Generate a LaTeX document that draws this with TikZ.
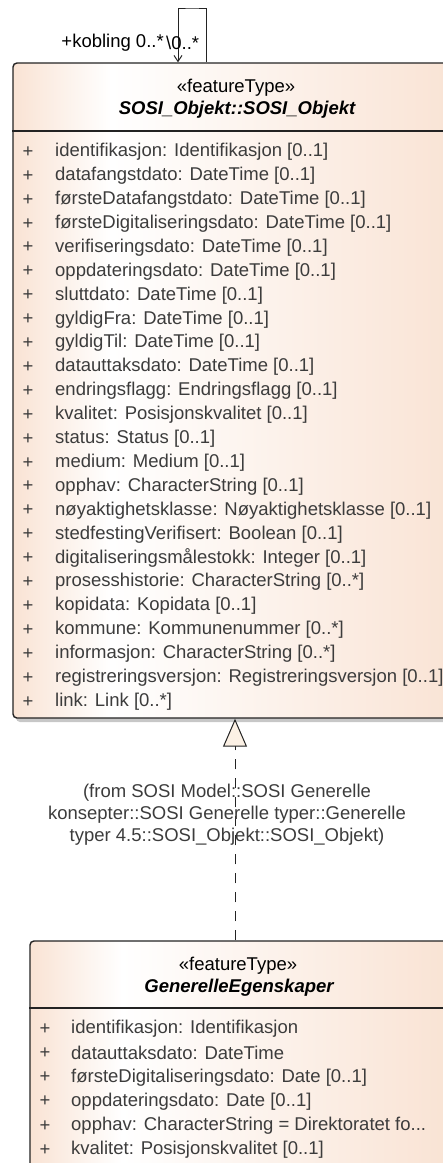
\documentclass[tikz,border=0pt]{standalone}
\usepackage{fontspec}
\setmainfont{Liberation Sans}
\usetikzlibrary{arrows.meta,shadows}
\definecolor{umlpeach}{RGB}{249,227,212}
\definecolor{umltext}{RGB}{60,60,60}
\definecolor{umlline}{RGB}{35,35,35}
\definecolor{umltri}{RGB}{252,241,229}
\pgfdeclarehorizontalshading{umlfill}{100bp}{color(0bp)=(umlpeach); color(25bp)=(umlpeach); color(36bp)=(white); color(75bp)=(umlpeach); color(100bp)=(umlpeach)}

\begin{document}
\begin{tikzpicture}[x=1pt,y=-1pt,
    classbox/.style={draw=umlline,line width=1.4pt,rounded corners=4pt,shading=umlfill,inner sep=0pt},
    attr/.style={anchor=west,text=umltext,inner sep=0pt,font=\fontsize{18.5}{22}\selectfont},
    plus/.style={text=umltext,inner sep=0pt,font=\fontsize{18.5}{22}\selectfont},
    stereo/.style={inner sep=0pt,font=\fontsize{18.5}{22}\selectfont},
    cname/.style={inner sep=0pt,font=\fontsize{18.5}{22}\selectfont\bfseries\itshape},
    lbl/.style={inner sep=0pt,font=\fontsize{18.5}{22}\selectfont}]
  \useasboundingbox (0,0) rectangle (443,1163);
  \clip (0,0) rectangle (443,1163);

  % SOSI_Objekt:
  \node[classbox,minimum width=446,minimum height=655,
        drop shadow={shadow xshift=3pt,shadow yshift=-4pt,fill=black!22,opacity=1}]
        (sosi) at (236,390.5) {};
  \node[stereo] (sosiSt) at (236,88) {«featureType»};
  \node[cname] (sosiName) at (237,110) {SOSI\_Objekt::SOSI\_Objekt};
  \draw[umlline,line width=1.4pt] (sosi.west |- 0,131) -- (sosi.east |- 0,131);
  \foreach \txt [count=\i] in {identifikasjon: Identifikasjon [0..1],
      datafangstdato: DateTime [0..1],
      førsteDatafangstdato: DateTime [0..1],
      førsteDigitaliseringsdato: DateTime [0..1],
      verifiseringsdato: DateTime [0..1],
      oppdateringsdato: DateTime [0..1],
      sluttdato: DateTime [0..1],
      gyldigFra: DateTime [0..1],
      gyldigTil: DateTime [0..1],
      datauttaksdato: DateTime [0..1],
      endringsflagg: Endringsflagg [0..1],
      kvalitet: Posisjonskvalitet [0..1],
      status: Status [0..1],
      medium: Medium [0..1],
      opphav: CharacterString [0..1],
      nøyaktighetsklasse: Nøyaktighetsklasse [0..1],
      stedfestingVerifisert: Boolean [0..1],
      digitaliseringsmålestokk: Integer [0..1],
      prosesshistorie: CharacterString [0..*],
      kopidata: Kopidata [0..1],
      kommune: Kommunenummer [0..*],
      informasjon: CharacterString [0..*],
      registreringsversjon: Registreringsversjon [0..1],
      link: Link [0..*]} {
    \node[plus] (sp\i) at (28,{152+23.9*(\i-1)}) {+};
    \node[attr] (sa\i) at (55,{152+23.9*(\i-1)}) {\txt};
  }

  % GenerelleEgenskaper:
  \node[classbox,minimum width=418,minimum height=240] (gen) at (239,1061) {};
  \node[stereo] (genSt) at (238,966) {«featureType»};
  \node[cname] (genName) at (239,988) {GenerelleEgenskaper};
  \draw[umlline,line width=1.4pt] (gen.west |- 0,1008) -- (gen.east |- 0,1008);
  \foreach \txt [count=\i] in {identifikasjon: Identifikasjon,
      datauttaksdato: DateTime,
      førsteDigitaliseringsdato: Date [0..1],
      oppdateringsdato: Date [0..1],
      opphav: CharacterString = Direktoratet fo.{}.{}.,
      kvalitet: Posisjonskvalitet [0..1]} {
    \node[plus] (gp\i) at (45,{1029+24.2*(\i-1)}) {+};
    \node[attr] (ga\i) at (71,{1029+24.2*(\i-1)}) {\txt};
  }

  % kobling (self association):
  \coordinate (kobTop) at (192,8);
  \draw[umlline,line width=1pt,-{Straight Barb[length=6pt,width=8pt]}]
    (sosi.north -| 206,0) |- (kobTop) -| (sosi.north -| 178,0);
  \node[lbl,anchor=east] (kobRole) at (164,43) {+kobling 0..*};
  \node[lbl,anchor=west] (kobMult) at (166,43) {\textbackslash0..*};

  % realisation:
  \draw[umlline,line width=1pt,dash pattern=on 10pt off 9pt,
        -{Triangle[length=28pt,width=24pt,fill=umltri,line width=1pt]}]
    (gen.north -| 235,0) -- (sosi.south -| 235,0);
  \node[lbl,align=center,text=umltext] (fromTxt) at (227,814.5)
    {(from SOSI Model::SOSI Generelle\\konsepter::SOSI Generelle typer::Generelle\\typer 4.5::SOSI\_Objekt::SOSI\_Objekt)};
\end{tikzpicture}
\end{document}
